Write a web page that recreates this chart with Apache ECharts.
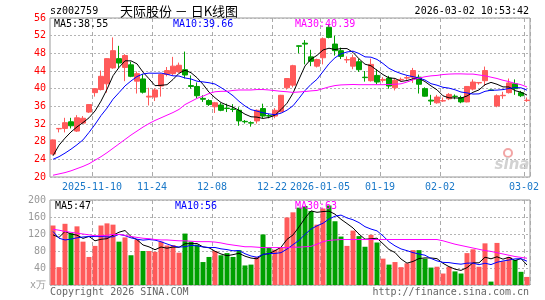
<!DOCTYPE html>
<html>
<head>
<meta charset="utf-8">
<script src="https://cdn.jsdelivr.net/npm/echarts@6/dist/echarts.min.js"></script>
<style>
html, body { margin: 0; padding: 0; background: #fff; }
#kChart { width: 545px; height: 300px; }
</style>
</head>
<body>
<div id="kChart"></div>
<script>
// 交易日
const dates = [
  '2025-10-30', '2025-10-31',
  '2025-11-03', '2025-11-04', '2025-11-05', '2025-11-06', '2025-11-07',
  '2025-11-10', '2025-11-11', '2025-11-12', '2025-11-13', '2025-11-14',
  '2025-11-17', '2025-11-18', '2025-11-19', '2025-11-20', '2025-11-21',
  '2025-11-24', '2025-11-25', '2025-11-26', '2025-11-27', '2025-11-28',
  '2025-12-01', '2025-12-02', '2025-12-03', '2025-12-04', '2025-12-05',
  '2025-12-08', '2025-12-09', '2025-12-10', '2025-12-11', '2025-12-12',
  '2025-12-15', '2025-12-16', '2025-12-17', '2025-12-18', '2025-12-19',
  '2025-12-22', '2025-12-23', '2025-12-24', '2025-12-25', '2025-12-26',
  '2025-12-29', '2025-12-30', '2025-12-31',
  '2026-01-05', '2026-01-06', '2026-01-07', '2026-01-08', '2026-01-09',
  '2026-01-12', '2026-01-13', '2026-01-14', '2026-01-15', '2026-01-16',
  '2026-01-19', '2026-01-20', '2026-01-21', '2026-01-22', '2026-01-23',
  '2026-01-26', '2026-01-27', '2026-01-28', '2026-01-29', '2026-01-30',
  '2026-02-02', '2026-02-03', '2026-02-04', '2026-02-05', '2026-02-06',
  '2026-02-09', '2026-02-10', '2026-02-11', '2026-02-12', '2026-02-13',
  '2026-02-24', '2026-02-25', '2026-02-26', '2026-02-27',
  '2026-03-02'
]

// 日K: 开 收 低 高
const opens = [25.2, 30.9, 31.0, 32.5, 30.4, 32.2, 34.7, 39.1, 39.8, 41.1,
  44.7, 46.8, 44.8, 45.4, 41.7, 42.2, 38.1, 38.1, 40.6, 43.2,
  43.4, 43.8, 44.3, 40.7, 40.5, 37.8, 37.3, 35.9, 36.3, 35.6,
  35.4, 35.1, 32.6, 32.3, 32.7, 35.5, 33.9, 33.8, 34.8, 40.2,
  40.8, 49.7, 50.3, 47.2, 45.1, 47.0, 53.9, 50.1, 48.6, 46.5,
  45.1, 46.1, 42.6, 41.8, 43.0, 41.9, 42.4, 40.2, 42.0, 42.4,
  42.6, 42.6, 40.0, 37.4, 36.8, 37.2, 37.7, 38.3, 38.0, 37.0,
  39.9, 41.3, 41.8, 39.7, 36.1, 38.4, 39.1, 41.1, 39.1, 37.3]
const closes = [28.4, 31.0, 32.3, 31.6, 33.4, 33.3, 36.4, 40.0, 42.8, 46.8,
  48.6, 45.8, 47.5, 42.8, 43.4, 39.2, 38.3, 39.7, 43.2, 44.1,
  45.1, 45.3, 43.1, 40.5, 38.4, 37.6, 36.4, 36.8, 35.1, 35.5,
  35.3, 32.7, 32.5, 32.2, 35.1, 33.8, 33.8, 35.1, 38.5, 42.3,
  45.2, 49.6, 50.1, 46.2, 46.6, 51.3, 51.6, 48.6, 47.3, 46.6,
  47.0, 44.3, 42.5, 45.5, 41.5, 42.1, 40.6, 41.9, 42.1, 42.5,
  44.1, 41.0, 38.3, 37.2, 38.1, 37.3, 38.7, 38.2, 37.0, 40.5,
  41.5, 41.4, 44.1, 39.6, 38.4, 38.5, 41.3, 40.0, 38.4, 37.4]
const lows = [25.0, 30.1, 30.1, 31.0, 30.2, 32.0, 34.5, 38.2, 39.6, 39.1,
  44.5, 44.7, 41.7, 42.6, 38.9, 38.9, 36.2, 37.2, 38.2, 42.8,
  43.0, 43.6, 42.3, 40.0, 37.8, 37.0, 36.1, 34.5, 34.9, 34.7,
  34.7, 31.6, 32.1, 31.4, 32.1, 33.3, 33.3, 33.3, 34.6, 39.8,
  40.3, 48.0, 45.5, 45.1, 44.8, 45.5, 51.4, 47.5, 46.7, 45.8,
  44.4, 43.8, 41.6, 41.6, 41.0, 41.4, 40.0, 39.6, 41.7, 42.0,
  41.3, 38.9, 38.2, 36.3, 36.6, 37.0, 37.4, 37.6, 36.7, 36.9,
  39.6, 40.9, 40.6, 39.5, 35.8, 37.7, 38.9, 38.6, 38.1, 37.0]
const highs = [28.5, 31.1, 33.4, 33.4, 34.0, 33.8, 36.5, 40.1, 44.1, 46.9,
  51.6, 49.7, 47.8, 46.1, 43.9, 43.3, 40.2, 40.1, 43.4, 44.9,
  47.2, 45.9, 48.4, 43.0, 41.4, 38.5, 37.6, 37.0, 36.8, 36.6,
  36.5, 35.8, 32.9, 32.6, 35.3, 36.6, 34.3, 35.6, 38.6, 42.4,
  45.4, 49.8, 51.0, 48.8, 46.8, 51.6, 54.5, 52.0, 49.3, 47.3,
  47.7, 46.8, 44.0, 46.8, 44.4, 42.6, 42.9, 42.2, 42.5, 42.9,
  44.7, 43.2, 40.3, 38.6, 38.6, 38.0, 39.0, 38.7, 38.4, 40.6,
  42.1, 41.5, 45.0, 39.8, 38.7, 39.3, 42.3, 42.1, 39.5, 38.0]

// 均线
const ma5 = [24.8, 27.2, 28.8, 30.2, 31.34, 32.32, 33.4, 34.94, 37.18, 39.86,
  42.92, 44.8, 46.3, 46.3, 45.62, 43.74, 42.24, 40.68, 40.76, 40.9,
  42.08, 43.48, 44.16, 43.62, 42.48, 40.98, 39.2, 37.94, 36.86, 36.28,
  35.82, 35.08, 34.22, 33.64, 33.56, 33.26, 33.48, 34.0, 35.26, 36.7,
  38.98, 42.14, 45.14, 46.68, 47.54, 48.76, 49.16, 48.86, 49.08, 49.08,
  48.22, 46.76, 45.54, 45.18, 44.16, 43.18, 42.44, 42.32, 41.64, 41.84,
  42.24, 42.32, 41.6, 40.62, 39.74, 38.38, 37.92, 37.9, 37.86, 38.34,
  39.18, 39.72, 40.9, 41.42, 41.0, 40.4, 40.38, 39.56, 39.2, 38.55]
const ma10 = [24.0, 24.6, 25.4, 26.3, 27.3, 28.4, 30.1, 31.9, 33.9, 35.6,
  37.62, 39.1, 40.62, 41.74, 42.74, 43.33, 43.52, 43.49, 43.53, 43.26,
  42.91, 42.86, 42.42, 42.19, 41.69, 41.53, 41.34, 41.05, 40.24, 39.38,
  38.4, 37.14, 36.08, 35.25, 34.92, 34.54, 34.28, 34.11, 34.45, 35.13,
  36.12, 37.81, 39.57, 40.97, 42.12, 43.87, 45.65, 47.0, 47.88, 48.31,
  48.49, 47.96, 47.2, 47.13, 46.62, 45.7, 44.6, 43.93, 43.41, 43.0,
  42.71, 42.38, 41.96, 41.13, 40.79, 40.31, 40.12, 39.75, 39.24, 39.04,
  38.78, 38.82, 39.4, 39.64, 39.67, 39.79, 40.05, 40.23, 40.2, 39.66]
const ma30 = [20.4, 20.7, 21.0, 21.4, 21.9, 22.4, 23.0, 23.8, 24.6, 25.5,
  26.5, 27.5, 28.5, 29.5, 30.4, 31.3, 32.1, 32.8, 33.4, 34.0,
  34.6, 35.3, 36.4, 37.1, 37.8, 38.3, 38.9, 39.3, 39.4, 39.4,
  39.6, 39.7, 39.7, 39.7, 39.8, 39.8, 39.7, 39.55, 39.4, 39.3,
  39.15, 39.25, 39.35, 39.5, 39.6, 40.0, 40.4, 40.7, 40.85, 40.9,
  40.95, 40.9, 40.9, 40.9, 40.9, 40.9, 40.95, 41.0, 41.1, 41.5,
  42.0, 42.4, 42.7, 42.9, 43.0, 43.2, 43.3, 43.35, 43.35, 43.3,
  43.3, 43.1, 42.9, 42.6, 42.3, 41.9, 41.6, 41.2, 40.9, 40.39]

// 成交量(万手)
const volumes = [140, 42, 144, 122, 138, 102, 66, 92, 140, 145,
  142, 102, 112, 70, 107, 80, 80, 78, 102, 93,
  94, 76, 121, 102, 95, 54, 66, 80, 70, 75,
  66, 82, 46, 48, 66, 119, 88, 83, 88, 159,
  171, 182, 186, 174, 142, 180, 187, 150, 114, 92,
  128, 115, 90, 118, 100, 62, 48, 54, 42, 51,
  82, 82, 62, 41, 43, 27, 43, 32, 27, 75,
  84, 43, 98, 8, 99, 56, 66, 59, 31, 19]
const volMa5 = [118, 112, 126, 120, 117.2, 109.6, 114.4, 104, 107.6, 109,
  117, 124.2, 128.2, 114.2, 106.6, 94.2, 89.8, 83, 89.4, 86.6,
  89.4, 88.6, 97.2, 97.2, 97.6, 89.6, 87.6, 79.4, 73, 69,
  71.4, 74.6, 67.8, 63.4, 61.6, 72.2, 73.4, 80.8, 88.8, 107.4,
  117.8, 136.6, 157.2, 174.4, 171, 172.8, 173.8, 166.6, 154.6, 144.6,
  134.2, 119.8, 107.8, 108.6, 110.2, 97, 83.6, 76.4, 61.2, 51.4,
  55.4, 62.2, 63.8, 63.6, 62, 51, 43.2, 37.2, 34.4, 40.8,
  52.2, 52.2, 65.4, 61.6, 66.4, 60.8, 65.4, 57.6, 62.2, 47]
const volMa10 = [126, 110, 106, 108, 111, 113, 114, 114, 114, 113.1,
  113.3, 119.3, 116.1, 110.9, 107.8, 105.6, 107, 105.6, 101.8, 96.6,
  91.8, 89.2, 90.1, 93.3, 92.1, 89.5, 88.1, 88.3, 85.1, 83.3,
  80.5, 81.1, 73.6, 68.2, 65.3, 71.8, 74, 74.3, 76.1, 84.5,
  95, 105, 119, 131.6, 139.2, 145.3, 155.2, 161.9, 164.5, 157.8,
  153.5, 146.8, 137.2, 131.6, 127.4, 115.6, 101.7, 92.1, 84.9, 80.8,
  76.2, 72.9, 70.1, 62.4, 56.7, 53.2, 52.7, 50.5, 49, 51.4,
  51.6, 47.7, 51.3, 48, 53.6, 56.5, 58.8, 61.5, 61.9, 56]
const volMa30 = [131, 129, 126, 124, 122, 120, 118, 116, 116, 117,
  119, 119, 117, 114, 112, 110, 109, 107, 106, 106,
  105, 104, 104, 103, 102, 102, 102, 101, 99, 96,
  94, 92, 90, 90, 89, 88, 88, 88, 88, 88,
  89, 89, 90, 91, 96, 102, 105, 106, 107, 107,
  107, 107, 107, 107, 107, 107, 107, 107, 107, 107,
  107, 107, 107, 107, 107, 104, 100, 96, 93, 90,
  87, 84, 81, 79, 76, 73, 70, 67, 65, 63]

// 横轴刻度
const tickIndex = [7, 17, 27, 37, 45, 55, 65, 79]
const tickLabels = ['2025-11-10', '11-24', '12-08', '12-22', '2026-01-05', '01-19', '02-02', '03-02']

const COLOR_UP = '#ff5a5a'
const COLOR_DOWN = '#00a000'
const MONO = '10px "DejaVu Sans Mono", monospace'

let chart = echarts.init(document.getElementById('kChart'))

let kData = dates.map((d, i) => [opens[i], closes[i], lows[i], highs[i]])
let volData = volumes.map((v, i) => ({
  value: v,
  itemStyle: { color: closes[i] >= opens[i] ? COLOR_UP : COLOR_DOWN }
}))

let isTick = (i) => tickIndex.indexOf(i) >= 0
let dashLine = { show: true, interval: isTick, lineStyle: { color: '#aaa', type: [4, 3], width: 1 } }
let dotLine = { show: true, lineStyle: { color: '#b4b4b4', type: [2, 2], width: 1 } }

function maLine(name, data, color, xi, yi) {
  return {
    name: name, type: 'line', data: data, xAxisIndex: xi, yAxisIndex: yi,
    symbol: 'none', silent: true,
    lineStyle: { color: color, width: 1 }
  }
}

function label(text, x, y, color, align) {
  return {
    type: 'text', x: x, y: y, z: 100,
    style: { text: text, fill: color, font: MONO, align: align || 'left', verticalAlign: 'middle',
      textAlign: align || 'left', textVerticalAlign: 'middle' }
  }
}

let option = {
  animation: false,
  backgroundColor: '#fff',
  grid: [
    { left: 50, right: 15, top: 18, height: 159, show: true, borderColor: '#999', borderWidth: 1 },
    { left: 50, right: 15, top: 200, height: 85, show: true, borderColor: '#999', borderWidth: 1 }
  ],
  xAxis: [
    {
      type: 'category', data: dates, gridIndex: 0, boundaryGap: true,
      axisLine: { show: false }, axisTick: { show: false },
      axisLabel: {
        interval: isTick,
        formatter: (v, i) => tickLabels[tickIndex.indexOf(i)] || '',
        color: '#1a78c8', fontFamily: '"DejaVu Sans Mono", monospace', fontSize: 10,
        margin: 5, padding: [0, 6, 0, 0]
      },
      splitLine: dashLine
    },
    {
      type: 'category', data: dates, gridIndex: 1, boundaryGap: true,
      axisLine: { show: false }, axisTick: { show: false }, axisLabel: { show: false },
      splitLine: dashLine
    }
  ],
  yAxis: [
    {
      type: 'value', gridIndex: 0, min: 20, max: 56, interval: 4,
      axisLine: { show: false }, axisTick: { show: false },
      axisLabel: { color: '#ff0000', fontFamily: '"DejaVu Sans Mono", monospace', fontSize: 10, margin: 4 },
      splitLine: dotLine
    },
    {
      type: 'value', gridIndex: 1, min: 0, max: 200, interval: 40,
      axisLine: { show: false }, axisTick: { show: false },
      axisLabel: {
        color: '#999', fontFamily: '"DejaVu Sans Mono", monospace', fontSize: 10, margin: 4,
        formatter: (v) => v === 0 ? 'x万' : v
      },
      splitLine: dotLine
    }
  ],
  series: [
    {
      name: '日K', type: 'candlestick', data: kData, xAxisIndex: 0, yAxisIndex: 0,
      barWidth: 5,
      itemStyle: { color: COLOR_UP, color0: COLOR_DOWN, borderColor: COLOR_UP, borderColor0: COLOR_DOWN, borderWidth: 1 }
    },
    maLine('MA5', ma5, '#000000', 0, 0),
    maLine('MA10', ma10, '#0000ff', 0, 0),
    maLine('MA30', ma30, '#ff00ff', 0, 0),
    { name: 'VOL', type: 'bar', data: volData, xAxisIndex: 1, yAxisIndex: 1, barWidth: 5 },
    maLine('VMA5', volMa5, '#000000', 1, 1),
    maLine('VMA10', volMa10, '#0000ff', 1, 1),
    maLine('VMA30', volMa30, '#ff00ff', 1, 1)
  ],
  graphic: [
    label('sz002759', 50, 11, '#000'),
    {
      type: 'text', x: 179, y: 11, z: 100,
      style: { text: '天际股份 － 日K线图', fill: '#000', font: '13px "Noto Sans CJK SC"',
        align: 'center', verticalAlign: 'middle', textAlign: 'center', textVerticalAlign: 'middle' }
    },
    label('2026-03-02 10:53:42', 529, 11, '#000', 'right'),
    label('MA5:38.55', 54, 24, '#000'),
    label('MA10:39.66', 173, 24, '#0000ff'),
    label('MA30:40.39', 295, 24, '#ff00ff'),
    label('MA5:47', 55, 206, '#000'),
    label('MA10:56', 175, 206, '#0000ff'),
    label('MA30:63', 295, 206, '#ff00ff'),
    label('Copyright 2026 SINA.COM', 50, 292, '#666'),
    label('http://finance.sina.com.cn', 529, 292, '#666', 'right'),
    // sina 水印
    { type: 'circle', shape: { cx: 508, cy: 153, r: 4 }, z: 5, style: { fill: 'none', stroke: '#f2a5a5', lineWidth: 2 } },
    {
      type: 'text', x: 512, y: 165, z: 5,
      style: { text: 'sina', fill: '#d2d2d2', font: 'italic bold 15px "DejaVu Sans"',
        align: 'center', verticalAlign: 'middle', textAlign: 'center', textVerticalAlign: 'middle' }
    }
  ]
}

chart.setOption(option)
</script>
</body>
</html>
